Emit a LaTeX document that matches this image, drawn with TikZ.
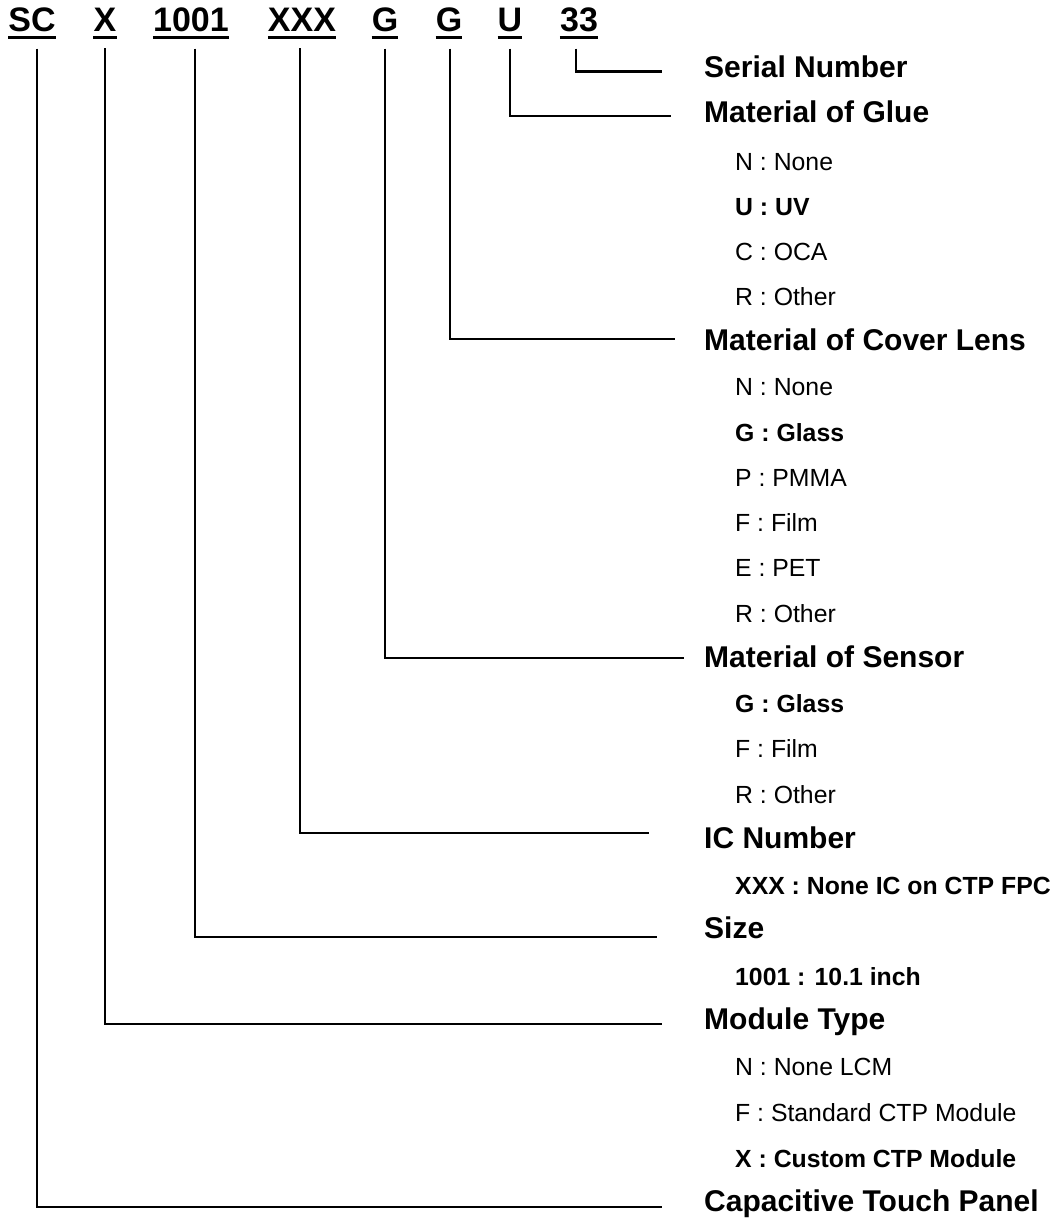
\documentclass[tikz,border=0pt]{standalone}
\usepackage{fontspec}
\setmainfont{Liberation Sans}
\usetikzlibrary{positioning}
\tikzset{%
	code/.style={
		font=\bfseries\fontsize{34}{40}\selectfont,
		inner sep=0pt,
		anchor=base
	},
	title/.style={
		font=\bfseries\fontsize{30}{34}\selectfont,
		inner sep=0pt,
		anchor=base west
	},
	option/.style={
		font=\fontsize{24.8}{30}\selectfont,
		inner sep=0pt,
		anchor=base west
	},
	optbold/.style={
		option,
		font=\bfseries\fontsize{24.8}{30}\selectfont
	},
	uline/.style={line width=3pt},
	lead/.style={line width=2.6pt},
}

\begin{document}
\begin{tikzpicture}[x=1pt,y=-1pt]
			\useasboundingbox (0,0) rectangle (1059,1218);
			
			% Draw the part number
			\node[code] (sc)  at (32,31)  {SC};
			\node[code] (x)   at (105,31) {X};
			\node[code] (sz)  at (191,31) {1001};
			\node[code] (ic)  at (302,31) {XXX};
			\node[code] (sn)  at (385,31) {G};
			\node[code] (cl)  at (449,31) {G};
			\node[code] (gl)  at (510,31) {U};
			\node[code] (ser) at (579,31) {33};
			\foreach \c in {sc,x,sz,ic,sn,cl,gl,ser}
				\draw[uline] ([yshift=-6pt]\c.base west) -- ([yshift=-6pt]\c.base east);
			
			% Draw the headings
			\node[title] (tser) at (704,77)     {Serial Number};
			\node[title] (tgl)  at (704,122.5)  {Material of Glue};
			\node[title] (tcl)  at (704,350)    {Material of Cover Lens};
			\node[title] (tsn)  at (704,667)    {Material of Sensor};
			\node[title] (tic)  at (704,848)    {IC Number};
			\node[title] (tsz)  at (704,938.5)  {Size};
			\node[title] (tmod) at (704,1029.5) {Module Type};
			\node[title] (tcap) at (704,1211.5) {Capacitive Touch Panel};
			
			% Draw the options
			\node[option]  (gl1) at (735,170)   {N : None};
			\node[optbold] (gl2) at (735,215)   {U : UV};
			\node[option]  (gl3) at (735,260)   {C : OCA};
			\node[option]  (gl4) at (735,305)   {R : Other};
			
			\node[option]  (cl1) at (735,395.5) {N : None};
			\node[optbold] (cl2) at (735,441)   {G : Glass};
			\node[option]  (cl3) at (735,486)   {P : PMMA};
			\node[option]  (cl4) at (735,531)   {F : Film};
			\node[option]  (cl5) at (735,576.5) {E : PET};
			\node[option]  (cl6) at (735,622)   {R : Other};
			
			\node[optbold] (sn1) at (735,712.5) {G : Glass};
			\node[option]  (sn2) at (735,757.5) {F : Film};
			\node[option]  (sn3) at (735,803)   {R : Other};
			
			\node[optbold] (ic1) at (735,894)   {XXX : None IC on CTP FPC};
			
			\node[optbold] (sz1) at (735,985)   {1001 : 10.1 inch};
			
			\node[option]  (md1) at (735,1075.5){N : None LCM};
			\node[option]  (md2) at (735,1121.5){F : Standard CTP Module};
			\node[optbold] (md3) at (735,1167)  {X : Custom CTP Module};
			
			% Draw the leader lines
			\foreach \c/\t/\dx/\gap/\dy in {ser/tser/-3/42/5.5, gl/tgl/0/33/6.5, cl/tcl/1/29/11,
				sn/tsn/0/20/9, ic/tic/-2/55/15, sz/tsz/4/47/1.5, x/tmod/0/42/5.5, sc/tcap/5/42/4.5}
				\draw[lead] ([xshift=\dx pt,yshift=-17pt]\c.south) |- ([xshift=-\gap pt,yshift=\dy pt]\t.base west);
			
		\end{tikzpicture}
\end{document}
